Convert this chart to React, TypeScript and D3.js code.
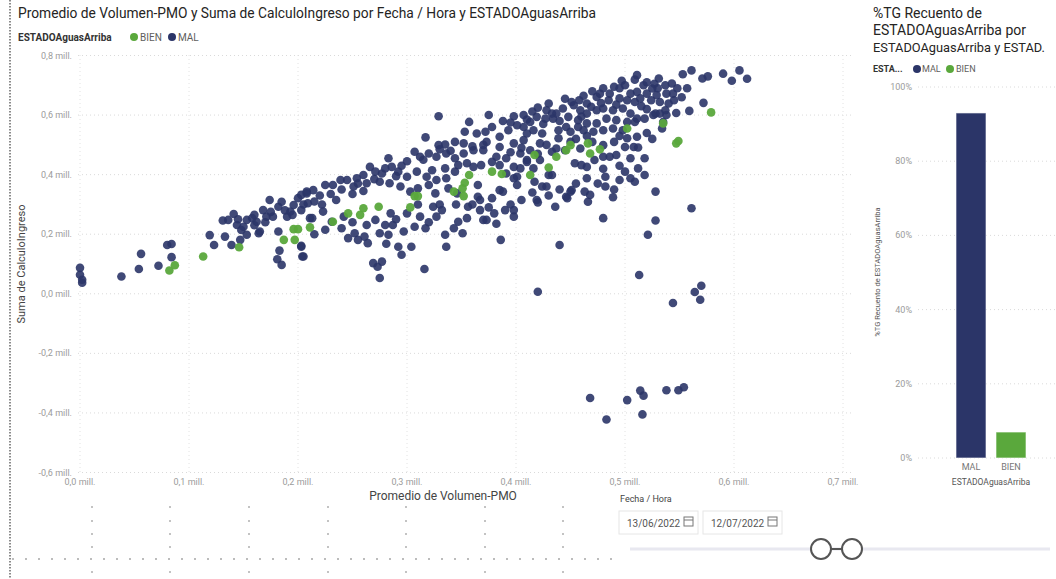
import * as d3 from 'd3';

// scatter: Promedio de Volumen-PMO (mill.) vs Suma de CalculoIngreso (mill.)
const malPoints: [number, number][] = [
  [0, 0.087], [0, 0.064], [0.002, 0.047], [0.002, 0.037], [0.038, 0.058], [0.054, 0.083], [0.056, 0.134],
  [0.072, 0.094], [0.080, 0.164], [0.084, 0.167], [0.084, 0.123], [0.119, 0.197], [0.123, 0.164],
  [0.131, 0.246], [0.136, 0.248], [0.141, 0.268], [0.144, 0.231], [0.148, 0.214], [0.153, 0.248], [0.158, 0.254],
  [0.162, 0.242], [0.165, 0.209], [0.168, 0.281], [0.171, 0.259], [0.174, 0.315], [0.177, 0.259], [0.182, 0.292],
  [0.185, 0.309], [0.190, 0.259], [0.193, 0.276], [0.196, 0.298], [0.200, 0.321], [0.203, 0.332], [0.208, 0.343],
  [0.209, 0.304], [0.203, 0.281], [0.211, 0.254], [0.133, 0.192], [0.139, 0.164], [0.147, 0.181], [0.153, 0.198],
  [0.164, 0.203], [0.182, 0.209], [0.183, 0.145], [0.181, 0.116], [0.185, 0.097], [0.203, 0.161], [0.204, 0.125],
  [0.150, 0.225], [0.160, 0.230], [0.170, 0.240], [0.175, 0.275], [0.188, 0.280], [0.195, 0.265], [0.205, 0.300],
  [0.160, 0.265], [0.145, 0.250],
  [0.329, 0.596], [0.357, 0.577], [0.375, 0.600], [0.398, 0.596], [0.407, 0.600], [0.353, 0.544], [0.317, 0.525],
  [0.329, 0.499], [0.335, 0.501], [0.344, 0.510], [0.352, 0.505], [0.364, 0.538], [0.372, 0.544], [0.378, 0.560],
  [0.385, 0.527], [0.393, 0.549], [0.401, 0.566], [0.410, 0.538], [0.373, 0.510], [0.385, 0.493], [0.398, 0.505],
  [0.307, 0.477], [0.312, 0.460], [0.320, 0.471], [0.327, 0.460], [0.336, 0.471], [0.344, 0.455], [0.352, 0.471],
  [0.361, 0.482], [0.370, 0.482], [0.382, 0.460], [0.391, 0.455], [0.404, 0.471], [0.410, 0.443],
  [0.283, 0.455], [0.286, 0.426], [0.280, 0.421], [0.277, 0.404], [0.292, 0.410], [0.300, 0.393], [0.309, 0.410],
  [0.318, 0.393], [0.323, 0.415], [0.327, 0.382], [0.335, 0.421], [0.336, 0.388], [0.344, 0.410], [0.347, 0.432],
  [0.355, 0.438], [0.361, 0.426], [0.368, 0.432], [0.378, 0.443], [0.385, 0.432], [0.391, 0.404], [0.401, 0.393],
  [0.398, 0.426], [0.266, 0.426], [0.271, 0.410], [0.260, 0.399], [0.254, 0.388], [0.245, 0.382], [0.239, 0.382],
  [0.232, 0.365], [0.225, 0.365], [0.214, 0.348], [0.208, 0.337], [0.251, 0.360], [0.263, 0.371], [0.275, 0.376],
  [0.284, 0.371], [0.294, 0.360], [0.303, 0.343], [0.310, 0.354], [0.320, 0.365], [0.326, 0.337], [0.338, 0.354],
  [0.346, 0.337], [0.365, 0.365], [0.365, 0.326], [0.367, 0.315], [0.378, 0.321], [0.385, 0.348], [0.388, 0.343],
  [0.401, 0.365], [0.398, 0.388],
  [0.370, 0.500], [0.360, 0.495], [0.340, 0.480], [0.330, 0.485], [0.315, 0.450], [0.300, 0.445], [0.295, 0.430],
  [0.290, 0.395], [0.270, 0.385], [0.255, 0.370], [0.240, 0.350], [0.230, 0.335], [0.220, 0.330], [0.215, 0.310],
  [0.222, 0.300], [0.235, 0.315], [0.250, 0.335], [0.260, 0.345], [0.395, 0.475], [0.405, 0.490], [0.420, 0.470],
  [0.428, 0.500], [0.455, 0.520], [0.465, 0.530], [0.470, 0.510], [0.490, 0.510], [0.495, 0.530], [0.520, 0.540],
  [0.525, 0.520],
  [0.203, 0.158], [0.205, 0.125], [0.213, 0.254], [0.223, 0.276], [0.231, 0.242], [0.242, 0.259], [0.246, 0.187],
  [0.252, 0.203], [0.255, 0.181], [0.261, 0.192], [0.264, 0.170], [0.269, 0.103], [0.273, 0.091], [0.277, 0.108],
  [0.275, 0.053], [0.263, 0.231], [0.271, 0.248], [0.275, 0.203], [0.280, 0.231], [0.283, 0.198], [0.281, 0.168],
  [0.287, 0.231], [0.292, 0.158], [0.295, 0.131], [0.297, 0.209], [0.304, 0.158], [0.307, 0.225], [0.312, 0.259],
  [0.317, 0.220], [0.316, 0.083], [0.324, 0.292], [0.327, 0.259], [0.332, 0.281], [0.335, 0.198], [0.336, 0.158],
  [0.343, 0.220], [0.347, 0.242], [0.351, 0.203], [0.355, 0.254], [0.356, 0.292], [0.367, 0.281], [0.370, 0.248],
  [0.373, 0.248], [0.382, 0.235], [0.386, 0.181], [0.390, 0.281], [0.398, 0.281], [0.398, 0.259], [0.405, 0.315],
  [0.300, 0.270], [0.310, 0.300], [0.320, 0.240], [0.330, 0.300], [0.345, 0.300], [0.360, 0.300], [0.375, 0.290],
  [0.380, 0.270], [0.395, 0.300], [0.415, 0.340], [0.430, 0.330], [0.440, 0.350], [0.455, 0.370], [0.475, 0.370],
  [0.490, 0.350], [0.500, 0.410], [0.495, 0.430], [0.480, 0.420], [0.250, 0.240], [0.240, 0.220], [0.225, 0.215],
  [0.215, 0.200], [0.290, 0.250], [0.285, 0.270],
  [0.553, 0.737], [0.561, 0.750], [0.571, 0.723], [0.576, 0.730], [0.590, 0.739], [0.598, 0.715], [0.605, 0.750],
  [0.612, 0.722], [0.572, 0.641], [0.559, 0.614], [0.547, 0.607],
  [0.511, 0.734], [0.509, 0.719], [0.531, 0.723], [0.537, 0.700], [0.543, 0.706], [0.497, 0.715], [0.490, 0.695],
  [0.517, 0.700], [0.525, 0.689], [0.505, 0.672], [0.511, 0.678], [0.520, 0.672], [0.529, 0.667], [0.538, 0.672],
  [0.544, 0.672], [0.486, 0.672], [0.477, 0.672], [0.474, 0.661], [0.485, 0.650], [0.495, 0.656], [0.502, 0.650],
  [0.509, 0.644], [0.514, 0.656], [0.524, 0.650], [0.532, 0.644], [0.540, 0.639], [0.537, 0.616], [0.532, 0.605],
  [0.528, 0.605], [0.538, 0.600], [0.535, 0.577], [0.534, 0.555],
  [0.445, 0.655], [0.458, 0.650], [0.462, 0.665], [0.470, 0.680], [0.480, 0.690], [0.495, 0.690], [0.500, 0.700],
  [0.520, 0.710], [0.527, 0.705], [0.548, 0.690], [0.552, 0.660], [0.545, 0.650], [0.557, 0.690], [0.530, 0.690],
  [0.515, 0.630], [0.520, 0.620], [0.492, 0.635], [0.478, 0.640], [0.460, 0.595], [0.440, 0.580], [0.425, 0.570],
  [0.410, 0.585], [0.395, 0.575], [0.388, 0.580], [0.420, 0.625], [0.415, 0.612],
  [0.465, 0.639], [0.469, 0.628], [0.459, 0.616], [0.451, 0.644], [0.453, 0.633], [0.443, 0.622], [0.437, 0.605],
  [0.430, 0.639], [0.428, 0.616], [0.433, 0.605], [0.434, 0.588], [0.427, 0.588], [0.419, 0.594], [0.413, 0.577],
  [0.407, 0.560], [0.416, 0.549], [0.424, 0.538], [0.439, 0.549], [0.446, 0.560], [0.448, 0.594], [0.457, 0.583],
  [0.465, 0.605], [0.474, 0.616], [0.480, 0.622], [0.489, 0.616], [0.498, 0.622], [0.505, 0.605], [0.511, 0.588],
  [0.518, 0.588], [0.526, 0.600], [0.483, 0.588], [0.492, 0.583], [0.502, 0.577], [0.509, 0.577], [0.465, 0.572],
  [0.474, 0.572], [0.457, 0.560], [0.450, 0.544], [0.462, 0.549], [0.471, 0.544], [0.480, 0.549], [0.489, 0.555],
  [0.498, 0.549],
  [0.439, 0.522], [0.450, 0.510], [0.437, 0.488], [0.445, 0.482], [0.459, 0.488], [0.480, 0.499], [0.502, 0.522],
  [0.511, 0.527], [0.508, 0.493], [0.512, 0.491], [0.500, 0.493], [0.480, 0.460], [0.486, 0.460], [0.492, 0.466],
  [0.472, 0.449], [0.422, 0.505], [0.407, 0.516], [0.413, 0.482], [0.410, 0.449], [0.422, 0.449], [0.433, 0.477],
  [0.404, 0.421], [0.416, 0.421], [0.430, 0.399], [0.417, 0.376], [0.424, 0.360], [0.428, 0.360], [0.454, 0.438],
  [0.460, 0.432], [0.465, 0.426], [0.465, 0.388], [0.482, 0.393], [0.495, 0.382], [0.505, 0.388], [0.509, 0.376],
  [0.518, 0.399], [0.512, 0.421], [0.505, 0.455], [0.518, 0.455], [0.528, 0.343], [0.451, 0.348], [0.446, 0.326],
  [0.436, 0.292], [0.468, 0.332], [0.466, 0.309], [0.489, 0.324], [0.419, 0.315], [0.480, 0.254], [0.528, 0.246],
  [0.561, 0.287], [0.521, 0.198],
  [0.440, 0.164], [0.513, 0.063], [0.570, 0.027], [0.564, 0.006], [0.569, -0.020], [0.544, -0.031], [0.420, 0.007],
  [0.468, -0.350], [0.502, -0.357], [0.514, -0.325], [0.517, -0.342], [0.538, -0.324], [0.549, -0.324],
  [0.554, -0.314], [0.483, -0.422], [0.516, -0.405],
  [0.482, 0.360], [0.463, 0.343], [0.450, 0.343], [0.447, 0.321], [0.420, 0.307], [0.433, 0.399],
];

const bienPoints: [number, number][] = [
  [0.082, 0.078], [0.087, 0.096], [0.113, 0.125], [0.146, 0.156], [0.187, 0.181], [0.197, 0.181], [0.196, 0.217],
  [0.200, 0.217], [0.211, 0.223], [0.232, 0.242], [0.246, 0.270], [0.257, 0.265], [0.260, 0.287], [0.274, 0.292],
  [0.303, 0.290], [0.307, 0.328], [0.310, 0.328], [0.343, 0.343], [0.351, 0.354], [0.353, 0.373], [0.357, 0.399],
  [0.352, 0.328], [0.378, 0.410], [0.387, 0.402], [0.413, 0.399], [0.417, 0.466], [0.437, 0.460], [0.430, 0.424],
  [0.446, 0.482], [0.450, 0.499], [0.466, 0.505], [0.468, 0.471], [0.477, 0.485], [0.502, 0.555], [0.535, 0.572],
  [0.547, 0.505], [0.549, 0.513], [0.579, 0.609],
];

const xTicks = [0, 0.1, 0.2, 0.3, 0.4, 0.5, 0.6, 0.7];
const yTicks = [-0.6, -0.4, -0.2, 0, 0.2, 0.4, 0.6, 0.8];

// %TG bar chart
const categories = ['MAL', 'BIEN'];
const shares = [0.93, 0.07];
const pctTicks = [0, 0.2, 0.4, 0.6, 0.8, 1];

const NAVY = '#2B3568';
const GREEN = '#5AA83C';
const FONT = 'Roboto, "Noto Sans", sans-serif';
const fmtMill = (v: number) => d3.format('.1f')(v).replace('.', ',').replace('−', '-') + ' mill.';

export default function App() {
  const x = d3.scaleLinear().domain([0, 0.7]).range([80, 843]);
  const y = d3.scaleLinear().domain([-0.6, 0.8]).range([472.5, 55.5]);

  const bx = d3.scaleBand().domain(categories).range([951, 1031]).paddingInner(0.25).paddingOuter(0.125);
  const by = d3.scaleLinear().domain([0, 1]).range([458, 87]);

  const dotCols = [92, 170, 249, 328, 406, 485, 563];
  const dotRows = [507, 521, 534, 547, 572];

  return (
    <svg width={1056} height={579} style={{ position: 'absolute', left: 0, top: 0, background: '#fff' }} fontFamily={FONT}>
      {/* left dotted frame */}
      <line x1={10} x2={10} y1={0} y2={579} stroke="#666" strokeWidth={1.5} strokeDasharray="1.5 1.5" />

      {/* title + legend */}
      <text x={18} y={18} fontSize={14} fill="#252423" textLength={578} lengthAdjust="spacingAndGlyphs">
        Promedio de Volumen-PMO y Suma de CalculoIngreso por Fecha / Hora y ESTADOAguasArriba
      </text>
      <text x={18} y={41} fontSize={10} fontWeight={700} fill="#333">ESTADOAguasArriba</text>
      <circle cx={134} cy={37} r={4} fill={GREEN} />
      <text x={140} y={41} fontSize={10} fill="#605E5C">BIEN</text>
      <circle cx={172} cy={37} r={4} fill={NAVY} />
      <text x={178} y={41} fontSize={10} fill="#605E5C">MAL</text>

      {/* grid */}
      {yTicks.map((t) => (
        <g key={'y' + t}>
          <line x1={78} x2={852} y1={y(t)} y2={y(t)} stroke="#DADADA" strokeDasharray="1 3" />
          <text x={72} y={y(t) + 3} fontSize={9} fill="#9B9B9B" textAnchor="end">{fmtMill(t)}</text>
        </g>
      ))}
      {xTicks.map((t) => (
        <g key={'x' + t}>
          <line x1={x(t)} x2={x(t)} y1={55} y2={473} stroke="#E2E2E2" strokeDasharray="1 3" />
          <text x={x(t)} y={485} fontSize={9} fill="#9B9B9B" textAnchor="middle">{fmtMill(t)}</text>
        </g>
      ))}
      <text transform={`translate(25,${y(0.1)}) rotate(-90)`} fontSize={11} fill="#444" textAnchor="middle">
        Suma de CalculoIngreso
      </text>
      <text x={443} y={500} fontSize={12} fill="#444" textAnchor="middle">Promedio de Volumen-PMO</text>

      {/* points */}
      {malPoints.map((p, i) => (
        <circle key={'m' + i} cx={x(p[0])} cy={y(p[1])} r={4.3} fill={NAVY} fillOpacity={0.9} />
      ))}
      {bienPoints.map((p, i) => (
        <circle key={'b' + i} cx={x(p[0])} cy={y(p[1])} r={4.3} fill={GREEN} fillOpacity={0.95} />
      ))}

      {/* right panel: bar chart */}
      <text fontSize={14} fill="#252423">
        <tspan x={873} y={18}>%TG Recuento de</tspan>
        <tspan x={873} y={35}>ESTADOAguasArriba por</tspan>
      </text>
      <text x={873} y={52} fontSize={13} fill="#252423" textLength={172} lengthAdjust="spacingAndGlyphs">
        ESTADOAguasArriba y ESTAD.
      </text>
      <text x={873} y={72} fontSize={9} fontWeight={700} fill="#333">ESTA...</text>
      <circle cx={917} cy={69} r={4} fill={NAVY} />
      <text x={922} y={72} fontSize={9} fill="#605E5C">MAL</text>
      <circle cx={950} cy={69} r={4} fill={GREEN} />
      <text x={956} y={72} fontSize={9} fill="#605E5C">BIEN</text>

      {pctTicks.map((t) => (
        <g key={'p' + t}>
          <line x1={918} x2={1056} y1={by(t)} y2={by(t)} stroke="#DADADA" strokeDasharray="1 3" />
          <text x={912} y={by(t) + 3} fontSize={9} fill="#9B9B9B" textAnchor="end">{d3.format('.0%')(t)}</text>
        </g>
      ))}
      {categories.map((c, i) => (
        <g key={c}>
          <rect x={bx(c)} y={by(shares[i])} width={bx.bandwidth()} height={by(0) - by(shares[i])}
            fill={i === 0 ? NAVY : GREEN} stroke="#fff" strokeOpacity={0.6} />
          <text x={(bx(c) ?? 0) + bx.bandwidth() / 2} y={470} fontSize={9} fill="#777" textAnchor="middle">{c}</text>
        </g>
      ))}
      <text x={991} y={485} fontSize={8.5} fill="#555" textAnchor="middle">ESTADOAguasArriba</text>
      <text transform="translate(880,272) rotate(-90)" fontSize={7.5} fill="#555" textAnchor="middle">
        %TG Recuento de ESTADOAguasArriba
      </text>

      {/* date slicer */}
      <text x={620} y={502} fontSize={9} fill="#444">Fecha / Hora</text>
      {[['13/06/2022', 619], ['12/07/2022', 703]].map(([label, bx0]) => (
        <g key={label as string} transform={`translate(${bx0},511)`}>
          <rect width={79} height={23} fill="#fff" stroke="#E6E6E6" />
          <text x={8} y={15.5} fontSize={10} fill="#555">{label}</text>
          <rect x={65} y={6} width={9} height={9} fill="none" stroke="#777" />
          <line x1={65} x2={74} y1={9} y2={9} stroke="#777" />
        </g>
      ))}
      <line x1={630} x2={1050} y1={549} y2={549} stroke="#E8E8F0" strokeWidth={3} />
      <line x1={830} x2={843} y1={549} y2={549} stroke="#555" strokeWidth={2} />
      <circle cx={821} cy={549} r={10} fill="#fff" stroke="#555" strokeWidth={2} />
      <circle cx={852} cy={549} r={10} fill="#fff" stroke="#555" strokeWidth={2} />

      {/* background dot grid */}
      {dotCols.map((cx) => dotRows.map((cy) => (
        <circle key={cx + '-' + cy} cx={cx} cy={cy} r={0.8} fill="#777" />
      )))}
      {d3.range(13, 614, 13).map((cx) => (
        <circle key={'r' + cx} cx={cx} cy={559} r={0.8} fill="#666" />
      ))}
    </svg>
  );
}
